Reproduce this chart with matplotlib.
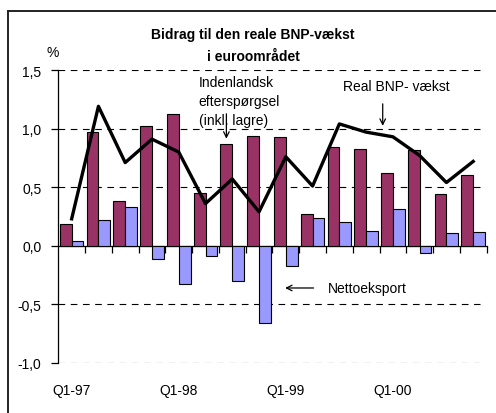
import numpy as np
import matplotlib
matplotlib.use('Agg')
import matplotlib.pyplot as plt
from matplotlib.lines import Line2D

plt.rcParams['font.family'] = ['Liberation Sans', 'DejaVu Sans']

# data (percent, quarter on quarter)
quarters = ['Q1-97', 'Q2-97', 'Q3-97', 'Q4-97',
            'Q1-98', 'Q2-98', 'Q3-98', 'Q4-98',
            'Q1-99', 'Q2-99', 'Q3-99', 'Q4-99',
            'Q1-00', 'Q2-00', 'Q3-00', 'Q4-00']
domestic = [0.19, 0.97, 0.38, 1.02, 1.125, 0.45, 0.87, 0.94,
            0.93, 0.27, 0.84, 0.83, 0.62, 0.82, 0.44, 0.60]
net_exports = [0.04, 0.22, 0.33, -0.11, -0.33, -0.09, -0.30, -0.66,
               -0.17, 0.24, 0.20, 0.13, 0.31, -0.06, 0.11, 0.12]
gdp = [0.23, 1.19, 0.71, 0.91, 0.80, 0.36, 0.57, 0.29,
       0.76, 0.51, 1.04, 0.97, 0.93, 0.77, 0.54, 0.72]
yticks = [-1.0, -0.5, 0.0, 0.5, 1.0, 1.5]
ytick_labels = ['-1,0', '-0,5', '0,0', '0,5', '1,0', '1,5']

maroon = '#993366'
lilac = '#9999FF'

fig = plt.figure(figsize=(4.96, 4.14), dpi=100)
ax = fig.add_axes([0.1175, 0.1208, 0.8635, 0.7077])

x = np.arange(len(quarters))
w = 0.44
ax.bar(x - w / 2, domestic, w, color=maroon, edgecolor='black', linewidth=0.8, zorder=3)
ax.bar(x + w / 2, net_exports, w, color=lilac, edgecolor='black', linewidth=0.8, zorder=3)
ax.plot(x, gdp, color='black', linewidth=2.4, zorder=4)

# dashed grid (no line at zero)
for yv in yticks:
    if yv != 0:
        ax.hlines(yv, -0.5, 15.25, colors='black', linewidth=0.8,
                  linestyles=(0, (6, 5)), zorder=1)

ax.set_xlim(-0.5, 15.5)
ax.set_ylim(-1.0, 1.5)

ax.spines['top'].set_visible(False)
ax.spines['right'].set_visible(False)
ax.spines['bottom'].set_position(('data', 0))
ax.spines['left'].set_linewidth(0.9)
ax.spines['bottom'].set_linewidth(0.9)

ax.set_yticks(yticks)
ax.set_yticklabels(ytick_labels, fontsize=10)
ax.tick_params(axis='y', direction='out', length=5, width=0.9, pad=7)

ax.set_xticks(np.arange(0.5, 16.0, 1.0))
ax.set_xticklabels([])
ax.tick_params(axis='x', direction='out', length=5, width=0.9)

# quarter labels below the plot
trans = ax.get_xaxis_transform()
for i in range(0, len(quarters), 4):
    ax.text(x[i], -0.068, quarters[i], transform=trans, ha='center', va='top', fontsize=10)

# titles
fig.text(0.51, 0.915, 'Bidrag til den reale BNP-vækst', ha='center', va='center',
         fontsize=10, fontweight='bold')
fig.text(0.51, 0.862, 'i euroområdet', ha='center', va='center',
         fontsize=10, fontweight='bold')
fig.text(0.107, 0.873, '%', ha='center', va='center', fontsize=10)

# annotations
ax.text(4.74, 1.236, 'Indenlandsk\nefterspørgsel\n(inkl. lagre)', ha='left', va='center',
        fontsize=10, linespacing=1.45, zorder=5)
ax.annotate('', xy=(5.78, 0.89), xytext=(5.78, 1.15),
            arrowprops=dict(arrowstyle='->', color='black', lw=0.9, mutation_scale=10))
ax.text(12.12, 1.36, 'Real BNP- vækst', ha='center', va='center', fontsize=10)
ax.annotate('', xy=(11.62, 1.0), xytext=(11.62, 1.235),
            arrowprops=dict(arrowstyle='->', color='black', lw=0.9, mutation_scale=10))
ax.text(9.56, -0.36, 'Nettoeksport', ha='left', va='center', fontsize=10)
ax.annotate('', xy=(7.87, -0.36), xytext=(9.14, -0.36),
            arrowprops=dict(arrowstyle='->', color='black', lw=0.9, mutation_scale=10))

# outer frame (top and left only visible)
fig.add_artist(Line2D([0.016, 1.0], [0.971, 0.971], color='#222222', linewidth=1.4))
fig.add_artist(Line2D([0.016, 0.016], [0.0, 0.971], color='#222222', linewidth=1.4))

fig.savefig('out.png', dpi=100)
